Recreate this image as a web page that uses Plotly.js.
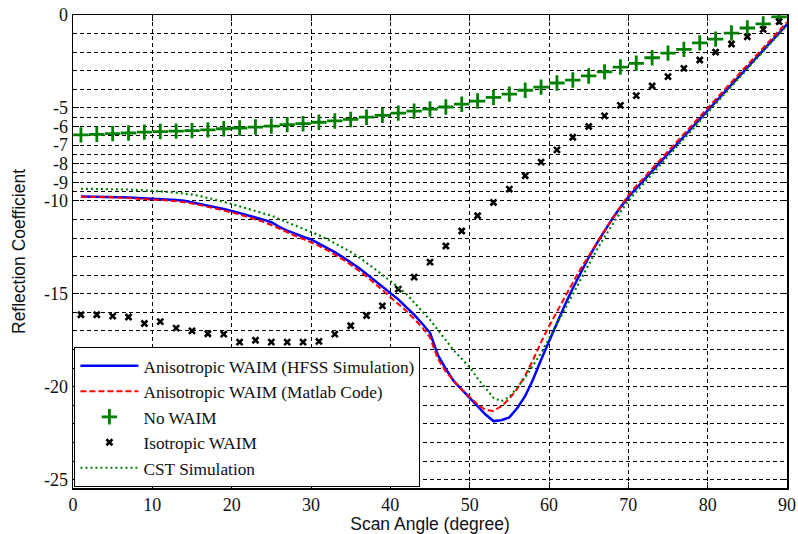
<!DOCTYPE html>
<html>
<head>
<meta charset="utf-8">
<script src="https://cdn.plot.ly/plotly-3.0.1.min.js"></script>
<style>html,body{margin:0;padding:0;background:#fff;}#chart{width:798px;height:534px;}</style>
</head>
<body>
<div id="chart"></div>
<script>
// Scan angle grids (degree)
const angleDense = [1,2,3,4,5,6,7,8,9,10,11,12,13,14,15,16,17,18,19,20,21,22,23,24,25,26,27,28,29,30,
  31,32,33,34,35,36,37,38,39,40,41,42,43,44,45,46,47,48,49,50,51,52,53,54,55,56,57,58,59,60,
  61,62,63,64,65,66,67,68,69,70,71,72,73,74,75,76,77,78,79,80,81,82,83,84,85,86,87,88,89,90];
const angleSparse = [1,3,5,7,9,11,13,15,17,19,21,23,25,27,29,31,33,35,37,39,41,43,45,47,49,
  51,53,55,57,59,61,63,65,67,69,71,73,75,77,79,81,83,85,87,89];

// Anisotropic WAIM (HFSS Simulation)
const hfss = [-9.77,-9.77,-9.78,-9.78,-9.79,-9.80,-9.82,-9.84,-9.86,-9.88,-9.90,-9.93,-9.95,-10.00,-10.08,
  -10.16,-10.25,-10.34,-10.44,-10.54,-10.65,-10.76,-10.88,-11.01,-11.15,-11.40,-11.60,-11.78,-11.93,-12.08,
  -12.30,-12.52,-12.76,-13.03,-13.30,-13.60,-13.93,-14.28,-14.64,-15.00,-15.30,-15.72,-16.12,-16.60,-17.10,
  -18.30,-19.05,-19.70,-20.15,-20.60,-21.05,-21.50,-21.85,-21.80,-21.65,-21.15,-20.50,-19.60,-18.55,-17.55,
  -16.55,-15.60,-14.70,-13.85,-13.05,-12.30,-11.60,-10.95,-10.35,-9.80,-9.33,-8.86,-8.40,-7.93,-7.47,
  -7.00,-6.54,-6.07,-5.60,-5.14,-4.68,-4.22,-3.75,-3.29,-2.82,-2.36,-1.90,-1.43,-0.97,-0.50];

// Anisotropic WAIM (Matlab Code)
const matlab = [-9.78,-9.78,-9.79,-9.80,-9.81,-9.83,-9.85,-9.87,-9.90,-9.92,-9.95,-9.98,-10.02,-10.07,-10.14,
  -10.22,-10.31,-10.41,-10.51,-10.62,-10.73,-10.85,-10.98,-11.13,-11.30,-11.50,-11.70,-11.88,-12.05,-12.22,
  -12.42,-12.64,-12.88,-13.15,-13.43,-13.74,-14.07,-14.43,-14.80,-15.16,-15.52,-15.92,-16.35,-16.80,-17.35,
  -18.50,-19.20,-19.70,-20.15,-20.55,-20.95,-21.25,-21.30,-21.05,-20.65,-20.10,-19.40,-18.55,-17.60,-16.75,
  -15.95,-15.15,-14.40,-13.65,-12.95,-12.25,-11.60,-10.95,-10.30,-9.70,-9.20,-8.73,-8.26,-7.80,-7.33,
  -6.87,-6.40,-5.94,-5.47,-5.00,-4.54,-4.07,-3.61,-3.15,-2.69,-2.23,-1.76,-1.30,-0.84,-0.38];

// No WAIM
const noWaim = [-6.45,-6.42,-6.38,-6.35,-6.30,-6.27,-6.25,-6.22,-6.18,-6.12,-6.08,-6.03,-5.98,-5.90,-5.85,
  -5.77,-5.70,-5.62,-5.50,-5.40,-5.28,-5.17,-5.06,-4.95,-4.80,-4.63,-4.43,-4.26,-4.05,-3.88,
  -3.66,-3.50,-3.28,-3.06,-2.80,-2.60,-2.30,-2.05,-1.85,-1.50,-1.30,-0.97,-0.70,-0.48,-0.10];

// Isotropic WAIM
const isoWaim = [-16.13,-16.13,-16.20,-16.25,-16.60,-16.50,-16.85,-17.00,-17.15,-17.17,-17.60,-17.50,-17.60,-17.60,-17.60,
  -17.56,-17.17,-16.72,-16.17,-15.65,-14.75,-14.10,-13.30,-12.43,-11.62,-10.80,-10.09,-9.37,-8.65,-7.92,
  -7.26,-6.58,-6.00,-5.43,-4.86,-4.34,-3.82,-3.32,-2.87,-2.42,-2.00,-1.56,-1.17,-0.77,-0.36];

// CST Simulation
const cst = [-9.35,-9.35,-9.35,-9.36,-9.37,-9.38,-9.39,-9.41,-9.43,-9.45,-9.48,-9.52,-9.56,-9.60,-9.66,
  -9.74,-9.83,-9.93,-10.05,-10.17,-10.29,-10.41,-10.53,-10.66,-10.80,-10.98,-11.15,-11.32,-11.49,-11.66,
  -11.85,-12.05,-12.27,-12.50,-12.75,-13.02,-13.32,-13.65,-13.98,-14.30,-14.66,-15.00,-15.47,-15.90,-16.40,
  -16.95,-17.52,-18.05,-18.50,-18.95,-19.55,-20.10,-20.60,-20.78,-20.55,-20.05,-19.50,-18.85,-18.20,-17.40,
  -16.60,-15.80,-15.00,-14.20,-13.40,-12.65,-11.95,-11.25,-10.60,-10.00,-9.50,-9.02,-8.55,-8.08,-7.60,
  -7.13,-6.66,-6.19,-5.72,-5.25,-4.78,-4.31,-3.84,-3.37,-2.90,-2.43,-1.96,-1.49,-1.02,-0.55];

// Axis ticks
const xTicks = [0,10,20,30,40,50,60,70,80,90];
const yTicks = [0,-5,-6,-7,-8,-9,-10,-15,-20,-25];
const yTickLabels = ['0','-5','-6','-7','-8','-9','-10','-15','-20','-25'];
const yGridExtra = [-1,-2,-3,-4,-5.5,-6.5,-7.5,-8.5,-9.5,-11,-12,-13,-14,-16,-17,-18,-19,-21,-22,-23,-24];

const names = ['Anisotropic WAIM (HFSS Simulation)','Anisotropic WAIM (Matlab Code)','No WAIM','Isotropic WAIM','CST Simulation'];

const traces = [
  {x: angleDense, y: hfss, name: names[0], type: 'scatter', mode: 'lines',
   line: {color: '#0000ff', width: 2.5}},
  {x: angleDense, y: matlab, name: names[1], type: 'scatter', mode: 'lines',
   line: {color: '#ff0000', width: 2, dash: '6px,3px'}},
  {x: angleSparse, y: noWaim, name: names[2], type: 'scatter', mode: 'markers',
   marker: {symbol: 'cross-thin', size: 11, color: '#008000', line: {color: '#008000', width: 2.8}}},
  {x: angleSparse, y: isoWaim, name: names[3], type: 'scatter', mode: 'markers',
   marker: {symbol: 'x-thin', size: 6, color: '#000', line: {color: '#000', width: 2.6}}},
  {x: angleDense, y: cst, name: names[4], type: 'scatter', mode: 'lines',
   line: {color: '#008000', width: 2.2, dash: '2px,3px'}}
];

const gridDash = '4px,3px';
const layout = {
  width: 798, height: 534,
  margin: {l: 73, r: 11, t: 15, b: 46, pad: 0},
  paper_bgcolor: '#fff', plot_bgcolor: '#fff',
  showlegend: true,
  xaxis: {
    range: [0, 90], tickmode: 'array', tickvals: xTicks,
    ticks: 'inside', ticklen: 6, tickcolor: '#000', tickwidth: 1,
    showline: true, linecolor: '#000', linewidth: 1.5, mirror: 'ticks',
    showgrid: true, gridcolor: '#000', gridwidth: 1, griddash: gridDash,
    zeroline: false,
    tickfont: {family: 'Liberation Serif, Times New Roman, serif', size: 18, color: '#111'},
    title: {text: 'Scan Angle (degree)', font: {family: 'Liberation Sans, Arial, sans-serif', size: 17.5, color: '#111'}, standoff: 2}
  },
  yaxis: {
    range: [-25.45, 0], tickmode: 'array', tickvals: yTicks, ticktext: yTickLabels,
    ticks: 'inside', ticklen: 6, tickcolor: '#000', tickwidth: 1,
    showline: true, linecolor: '#000', linewidth: 1.5, mirror: 'ticks',
    showgrid: true, gridcolor: '#000', gridwidth: 1, griddash: gridDash,
    zeroline: false,
    minor: {tickmode: 'array', tickvals: yGridExtra, showgrid: true, gridcolor: '#000', gridwidth: 1, griddash: gridDash, ticks: ''},
    tickfont: {family: 'Liberation Serif, Times New Roman, serif', size: 18, color: '#111'},
    title: {text: 'Reflection Coefficient', font: {family: 'Liberation Sans, Arial, sans-serif', size: 17.5, color: '#111'}, standoff: 14}
  },
  legend: {
    x: 0.002, y: 0.002, xanchor: 'left', yanchor: 'bottom',
    bgcolor: '#fff', bordercolor: '#000', borderwidth: 1,
    itemwidth: 58, tracegroupgap: 0,
    font: {family: 'Liberation Serif, Times New Roman, serif', size: 17.3, color: '#111'}
  }
};

Plotly.newPlot('chart', traces, layout, {displayModeBar: false, staticPlot: true});
</script>
</body>
</html>
